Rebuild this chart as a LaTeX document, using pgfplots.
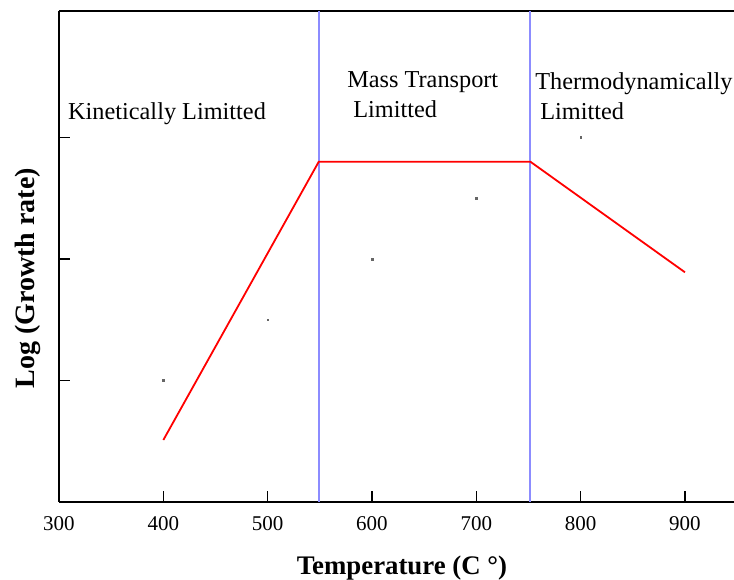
\documentclass[border=0pt]{standalone}
\usepackage{fontspec}
\setmainfont{Liberation Serif}
\usepackage{pgfplots}
\pgfplotsset{compat=1.18}

\definecolor{zoneline}{RGB}{140,140,255}

\begin{document}
\begin{tikzpicture}
\begin{axis}[
  scale only axis,
  width=675pt, height=491pt,
  xmin=300, xmax=947,
  ymin=0, ymax=4.04,
  axis x line*=box, axis y line*=left,
  axis line style={line width=1.8pt},
  xtick={300,400,500,600,700,800,900},
  ytick={1,2,3},
  yticklabels={},
  xtick pos=left, ytick pos=left,
  tick align=inside,
  major tick length=11pt,
  every tick/.style={black, line width=1.6pt},
  /pgf/number format/assume math mode=true,
  xticklabel style={font=\fontsize{21}{25}\selectfont, anchor=north, inner sep=0pt},
  xticklabel shift=14pt,
  xlabel={\textbf{Temperature (C °)}},
  xlabel style={font=\fontsize{26.8}{30}\selectfont, at={(axis description cs:0.508,0)}, anchor=base, yshift=-73pt},
  ylabel={\textbf{Log (Growth rate)}},
  ylabel style={font=\fontsize{28}{32}\selectfont, at={([xshift=-24pt]axis description cs:0,0.456)}, anchor=base},
  clip=false,
]
% region boundaries
\addplot[zoneline, line width=1.8pt] coordinates {(549,0) (549,4.04)};
\addplot[zoneline, line width=1.8pt] coordinates {(751.8,0) (751.8,4.04)};

% sample points
\addplot[only marks, mark=square*, mark size=0.8pt, black!60] coordinates {
  (400,1.0) (500,1.5) (600,2.0) (700,2.5) (800,3.0)
};

% growth-rate regimes
\addplot[red, line width=1.8pt] coordinates {
  (400,0.51) (549,2.80) (751.8,2.80) (900,1.89)
};

\node[anchor=base west, inner sep=0pt, font=\fontsize{24.3}{28}\selectfont] at (axis cs:308.6,3.144) {Kinetically Limitted};
\node[anchor=base west, inner sep=0pt, font=\fontsize{24.3}{28}\selectfont] at (axis cs:576.1,3.407) {Mass Transport};
\node[anchor=base west, inner sep=0pt, font=\fontsize{24.3}{28}\selectfont] at (axis cs:581.9,3.160) {Limitted};
\node[anchor=base west, inner sep=0pt, font=\fontsize{24.3}{28}\selectfont] at (axis cs:756.4,3.391) {Thermodynamically};
\node[anchor=base west, inner sep=0pt, font=\fontsize{24.3}{28}\selectfont] at (axis cs:761.2,3.144) {Limitted};
\end{axis}
\pgfresetboundingbox
\path[use as bounding box] (-59pt,-78pt) rectangle (675pt,502pt);
\end{tikzpicture}
\end{document}
